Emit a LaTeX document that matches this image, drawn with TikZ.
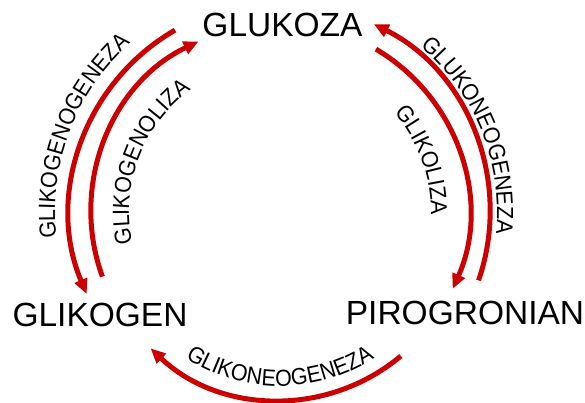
\documentclass[tikz,border=0pt]{standalone}
\usepackage{fontspec}
\setmainfont{Liberation Sans}
\newfontfamily\lblfamily[FakeStretch=0.92]{Liberation Sans}
\usetikzlibrary{arrows.meta,decorations.text,calc}
\definecolor{arcred}{RGB}{204,0,0}
\newcommand\lblfont{\lblfamily\fontsize{23.3}{24}\selectfont}
\begin{document}
\begin{tikzpicture}[x=1pt,y=1pt,
  flow/.style={draw=arcred, line width=5pt, -{Triangle[length=15pt,width=13pt]}},
  big/.style={font=\fontsize{33.5}{36}\selectfont, inner sep=0pt},
  arclabel/.style={decorate, decoration={text along path, text align=center, text={|\lblfont|#1}}}
]
\useasboundingbox (0,0) rectangle (585,-403);
\coordinate (C) at (280,-212);

% main nodes
\node[big] (glukoza) at (282.5,-24.5) {GLUKOZA};
\node[big] (glikogen) at (100,-315) {GLIKOGEN};
\node[big] (pirog) at (465,-312.5) {PIROGRONIAN};

% arc start points
\coordinate (s1) at ($(C)+(120:210)$);
\coordinate (s2) at ($(C)+(200:189)$);
\coordinate (s3) at ($(C)+(-19:210)$);
\coordinate (s4) at ($(C)+(59.5:189)$);
\coordinate (s5) at ($(C)+(-50:188)$);

\draw[flow] (s1) arc[start angle=120, end angle=203, radius=210];
\draw[flow] (s2) arc[start angle=200, end angle=115.5, radius=189];
\draw[flow] (s3) arc[start angle=-19, end angle=63.5, radius=210];
\draw[flow] (s4) arc[start angle=59.5, end angle=-24, radius=189];
\draw[flow] (s5) arc[start angle=-50, end angle=-133.5, radius=188];

% label paths
\coordinate (t1) at ($(C)+(199:225)$);
\coordinate (t2) at ($(C)+(199:151)$);
\coordinate (t3) at ($(C)+(62:217)$);
\coordinate (t4) at ($(C)+(60:151)$);
\coordinate (t5) at ($(C)+(230:174)$);

\path[arclabel=GLIKOGENOGENEZA] (t1) arc[start angle=199, end angle=119, radius=225];
\path[arclabel=GLIKOGENOLIZA] (t2) arc[start angle=199, end angle=119, radius=151];
\path[arclabel=GLUKONEOGENEZA] (t3) arc[start angle=62, end angle=-18, radius=217];
\path[arclabel=GLIKOLIZA] (t4) arc[start angle=60, end angle=-20, radius=151];
\path[arclabel=GLIKONEOGENEZA] (t5) arc[start angle=230, end angle=310, radius=174];
\end{tikzpicture}
\end{document}
